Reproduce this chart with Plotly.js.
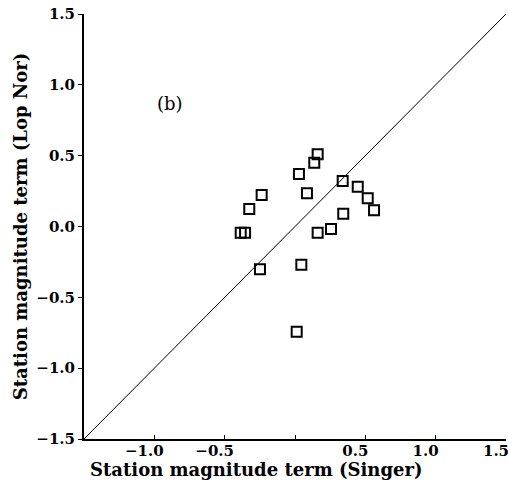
<!DOCTYPE html>
<html>
<head>
<meta charset="utf-8">
<script src="https://cdn.plot.ly/plotly-3.0.1.min.js"></script>
<style>html,body{margin:0;padding:0;background:#fff;}#chart{width:509px;height:487px;}</style>
</head>
<body>
<div id="chart"></div>
<script>
// Station magnitude terms: Singer (x) vs Lop Nor (y)
const singerTerm = [0.161, 0.137, 0.028, 0.339, 0.446, -0.237, 0.085, 0.517, -0.325, 0.562, 0.343, -0.386, -0.355, 0.161, 0.256, -0.249, 0.045, 0.012];
const lopNorTerm = [0.510, 0.450, 0.371, 0.321, 0.281, 0.222, 0.234, 0.199, 0.124, 0.114, 0.090, -0.044, -0.044, -0.044, -0.018, -0.302, -0.270, -0.743];
const lineX = [-1.5, 1.5];
const lineY = [-1.5, 1.5];
const xTickVals = [-1.0, -0.5, 0.0, 0.5, 1.0, 1.5];
const xTickText = ["\u22121.0", "\u22120.5", "", "0.5", "1.0", "1.5"];
const yTickVals = [-1.5, -1.0, -0.5, 0.0, 0.5, 1.0, 1.5];
const yTickText = ["\u22121.5", "\u22121.0", "\u22120.5", "0.0", "0.5", "1.0", "1.5"];
const xTitle = "Station magnitude term (Singer)";
const yTitle = "Station magnitude term (Lop Nor)";

const tickFont = {family: "DejaVu Serif", size: 15, color: "#000", weight: "bold"};
const titleFont = {family: "DejaVu Serif", size: 18, color: "#000", weight: "bold"};

const traces = [
  {x: lineX, y: lineY, mode: "lines", line: {color: "#000", width: 1}, hoverinfo: "skip"},
  {x: singerTerm, y: lopNorTerm, mode: "markers",
   marker: {symbol: "square-open", size: 10, color: "#000", line: {width: 2, color: "#000"}}}
];

const layout = {
  width: 509, height: 487,
  margin: {l: 84, r: 3, t: 14, b: 48},
  paper_bgcolor: "#fff", plot_bgcolor: "#fff",
  showlegend: false,
  xaxis: {
    range: [-1.5, 1.5], showgrid: false, zeroline: false,
    showline: true, linecolor: "#000", linewidth: 2,
    ticks: "inside", ticklen: 4, tickcolor: "#000", tickwidth: 1,
    tickvals: xTickVals, ticktext: xTickText, tickfont: tickFont,
    ticklabelshift: -10, ticklabelstandoff: -3, ticklabeloverflow: "allow"
  },
  yaxis: {
    range: [-1.5, 1.5], showgrid: false, zeroline: false,
    showline: true, linecolor: "#000", linewidth: 2,
    ticks: "outside", ticklen: 4, tickcolor: "#000", tickwidth: 1,
    tickvals: yTickVals, ticktext: yTickText, tickfont: tickFont,
    title: {text: yTitle, font: titleFont, standoff: 4}
  },
  annotations: [
    {x: -0.889, y: 0.865, xref: "x", yref: "y", text: "(b)", showarrow: false,
     font: {family: "DejaVu Serif", size: 18, color: "#000"}},
    {x: 0.4076, y: -0.071, xref: "paper", yref: "paper", text: xTitle, showarrow: false,
     xanchor: "center", yanchor: "middle", font: titleFont}
  ]
};

Plotly.newPlot("chart", traces, layout, {displayModeBar: false, staticPlot: true});
</script>
</body>
</html>
